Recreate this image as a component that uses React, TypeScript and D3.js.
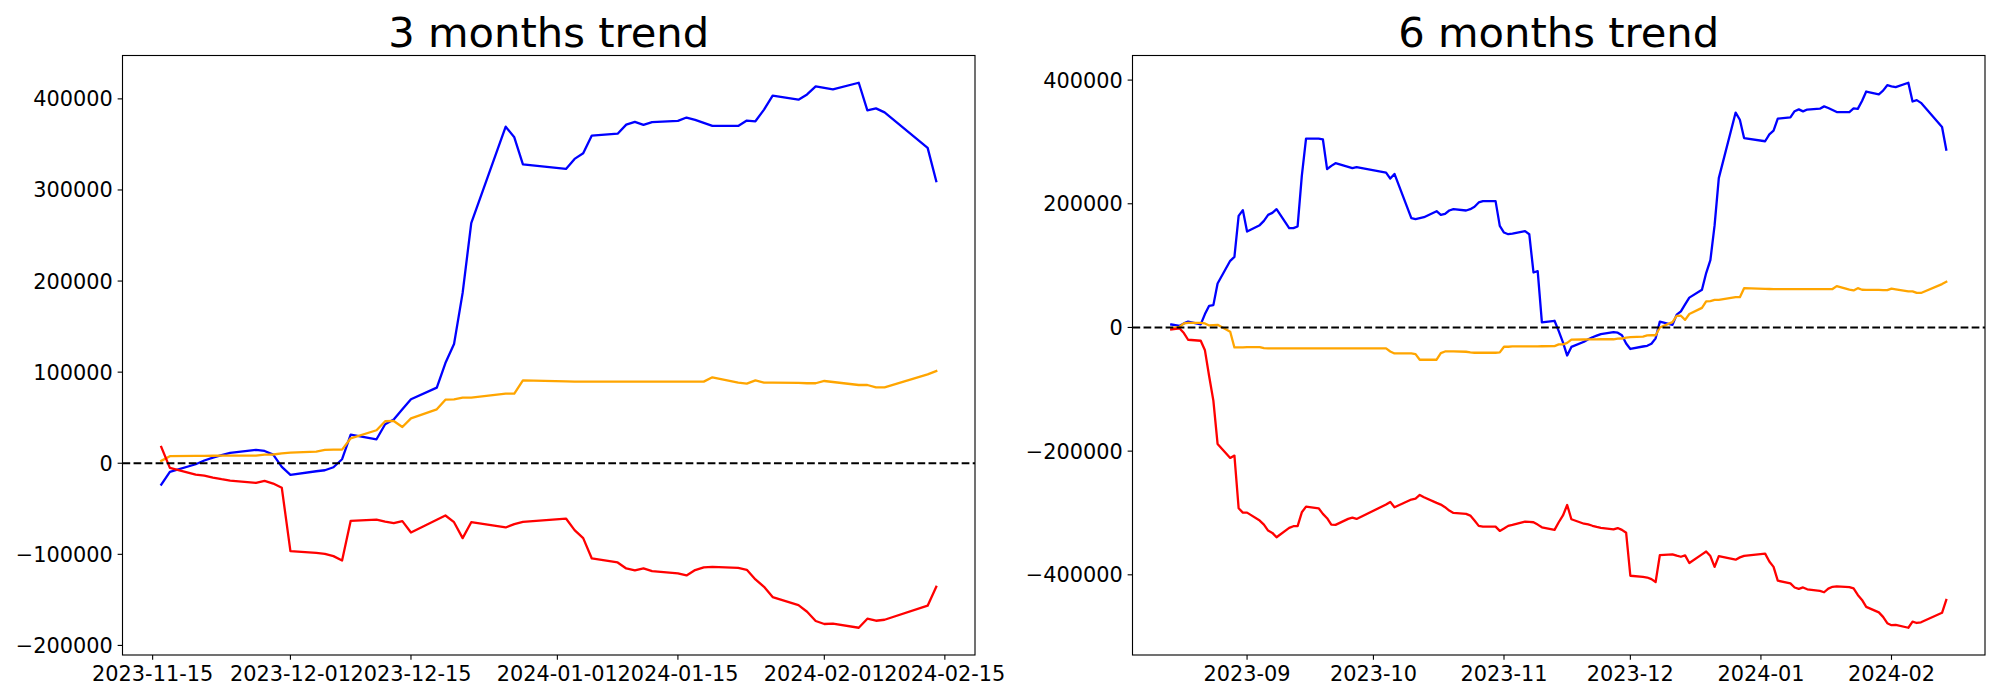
import React, { useEffect, useRef } from 'react';
import * as d3 from 'd3';

// ---------- 3 months data (KRX trading days) ----------
const dates3m = [
  '2023-11-16','2023-11-17','2023-11-20','2023-11-21','2023-11-22','2023-11-23','2023-11-24','2023-11-27','2023-11-28','2023-11-29','2023-11-30',
  '2023-12-01','2023-12-04','2023-12-05','2023-12-06','2023-12-07','2023-12-08','2023-12-11','2023-12-12','2023-12-13','2023-12-14','2023-12-15','2023-12-18','2023-12-19','2023-12-20','2023-12-21','2023-12-22','2023-12-26','2023-12-27','2023-12-28',
  '2024-01-02','2024-01-03','2024-01-04','2024-01-05','2024-01-08','2024-01-09','2024-01-10','2024-01-11','2024-01-12','2024-01-15','2024-01-16','2024-01-17','2024-01-18','2024-01-19','2024-01-22','2024-01-23','2024-01-24','2024-01-25','2024-01-26','2024-01-29','2024-01-30','2024-01-31',
  '2024-02-01','2024-02-02','2024-02-05','2024-02-06','2024-02-07','2024-02-08','2024-02-13','2024-02-14',
];
const blue3m = [
  -23400,-9500,-1100,3000,6200,8800,11300,14600,13500,9500,-4000,
  -12800,-8800,-7700,-4400,4400,31400,26300,42800,47900,59200,70200,83000,110000,130800,187000,263500,369500,357800,328200,
  323100,334100,340300,359700,361800,371700,374700,371400,374400,375800,379500,376900,373600,370300,370300,376200,375400,388200,403500,399100,404900,413700,
  412000,410500,417700,387400,389600,385200,346200,309600,
];
const orange3m = [
  2600,7700,8000,8100,8200,8300,8400,8400,9500,9600,10900,
  11700,12800,14600,14900,14900,27400,36200,46100,46400,39800,49300,59200,69800,70200,72000,72000,76400,76400,91000,
  89800,89700,89600,89600,89600,89600,89600,89600,89600,89600,89600,89600,89600,94300,88500,87400,91000,88500,88400,88200,87800,87800,
  90300,89200,85900,85900,83300,83300,97600,101200,
];
const red3m = [
  17900,-5100,-12400,-13500,-15700,-17500,-19000,-21600,-19400,-22300,-27000,
  -96500,-98400,-99400,-102000,-106700,-63200,-61800,-64000,-65800,-63600,-76000,-62000,-57400,-64700,-82200,-64700,-70500,-66800,-64400,
  -60700,-73500,-82200,-104500,-108900,-115500,-117700,-115400,-118400,-121000,-123200,-117300,-114400,-113700,-114800,-117000,-127600,-135600,-146900,-155700,-163000,-173200,
  -176500,-176100,-180600,-170700,-172900,-171800,-156400,-135600,
];

// ---------- 6 months data ----------
const dates6m = [
  '2023-08-14','2023-08-16','2023-08-17','2023-08-18','2023-08-21','2023-08-22','2023-08-23','2023-08-24','2023-08-25','2023-08-28','2023-08-29','2023-08-30','2023-08-31',
  '2023-09-01','2023-09-04','2023-09-05','2023-09-06','2023-09-07','2023-09-08','2023-09-11','2023-09-12','2023-09-13','2023-09-14','2023-09-15','2023-09-18','2023-09-19','2023-09-20','2023-09-21','2023-09-22','2023-09-25','2023-09-26','2023-09-27',
  '2023-10-04','2023-10-05','2023-10-06','2023-10-10','2023-10-11','2023-10-12','2023-10-13','2023-10-16','2023-10-17','2023-10-18','2023-10-19','2023-10-20','2023-10-23','2023-10-24','2023-10-25','2023-10-26','2023-10-27','2023-10-30','2023-10-31',
  '2023-11-01','2023-11-02','2023-11-03','2023-11-06','2023-11-07','2023-11-08','2023-11-09','2023-11-10','2023-11-13','2023-11-14','2023-11-15',
  '2023-11-16','2023-11-17','2023-11-20','2023-11-21','2023-11-22','2023-11-23','2023-11-24','2023-11-27','2023-11-28','2023-11-29','2023-11-30',
  '2023-12-01','2023-12-04','2023-12-05','2023-12-06','2023-12-07','2023-12-08','2023-12-11','2023-12-12','2023-12-13','2023-12-14','2023-12-15','2023-12-18','2023-12-19','2023-12-20','2023-12-21','2023-12-22','2023-12-26','2023-12-27','2023-12-28',
  '2024-01-02','2024-01-03','2024-01-04','2024-01-05','2024-01-08','2024-01-09','2024-01-10','2024-01-11','2024-01-12','2024-01-15','2024-01-16','2024-01-17','2024-01-18','2024-01-19','2024-01-22','2024-01-23','2024-01-24','2024-01-25','2024-01-26','2024-01-29','2024-01-30','2024-01-31',
  '2024-02-01','2024-02-02','2024-02-05','2024-02-06','2024-02-07','2024-02-08','2024-02-13','2024-02-14',
];
const blue6m = [
  4800,2700,6500,9400,5000,21600,35000,36100,71100,107800,114200,180500,189700,
  155100,165400,172400,182000,185300,191300,160600,160600,163300,245000,305400,305400,304300,255900,261300,265600,259700,257500,259100,
  250400,240700,248300,176700,175100,176700,178300,188000,182100,183700,189100,191300,189100,191300,195100,202100,204200,204200,164300,
  153500,150800,151900,155700,150800,88900,91000,8100,10800,-6000,-24000,
  -45400,-31500,-23100,-19000,-15800,-13200,-10700,-7400,-8500,-12500,-26000,
  -34800,-30800,-29700,-26400,-17600,9400,4300,20800,25900,37200,48200,61000,88000,108800,165000,241500,347500,335800,306200,
  301100,312100,318300,337700,339800,349700,352700,349400,352400,353800,357500,354900,351600,348300,348300,354200,353400,366200,381500,377100,382900,391700,
  390000,388500,395700,365400,367600,363200,324200,287600,
];
const orange6m = [
  -1000,1100,6500,7500,7500,6500,3200,3800,4300,-7000,-32300,-32300,-32300,
  -31700,-31700,-33400,-33900,-33900,-33900,-33900,-33900,-33900,-33900,-33900,-33900,-33900,-33900,-33900,-33900,-33900,-33900,-33900,
  -33900,-38800,-42000,-42000,-43100,-52200,-52200,-52200,-41500,-38800,-38800,-38800,-39300,-40400,-40900,-40900,-40900,-40900,-40400,
  -31200,-31200,-30700,-30700,-30700,-30700,-30500,-30400,-30100,-27400,-27500,
  -24900,-19800,-19500,-19400,-19300,-19200,-19100,-19100,-18000,-17900,-16600,
  -15800,-14700,-12900,-12600,-12600,-100,8700,18600,18900,12300,21800,31700,42300,42700,44500,44500,48900,48900,63500,
  62300,62200,62100,62100,62100,62100,62100,62100,62100,62100,62100,62100,62100,66800,61000,59900,63500,61000,60900,60700,60300,60300,
  62800,61700,58400,58400,55800,55800,70100,73700,
];
const red6m = [
  -3200,-1600,-9000,-19900,-21500,-37000,-79000,-118400,-188400,-211000,-207200,-292400,-299400,
  -299400,-312300,-318800,-328500,-332200,-339300,-324100,-321400,-321400,-298900,-289700,-292400,-301500,-308500,-318800,-319300,-309600,-307500,-309600,
  -286400,-282100,-290700,-278300,-276700,-270800,-274600,-283700,-286400,-290700,-296100,-299900,-301500,-304200,-312300,-320900,-322000,-322000,-329000,
  -325200,-320900,-319300,-313900,-314500,-315000,-318800,-323100,-327400,-315000,-304000,
  -287100,-310100,-317400,-318500,-320700,-322500,-324000,-326600,-324400,-327300,-332000,
  -401500,-403400,-404400,-407000,-411700,-368200,-366800,-369000,-370800,-368600,-381000,-367000,-362400,-369700,-387200,-369700,-375500,-371800,-369400,
  -365700,-378500,-387200,-409500,-413900,-420500,-422700,-420400,-423400,-426000,-428200,-422300,-419400,-418700,-419800,-422000,-432600,-440600,-451900,-460700,-468000,-478200,
  -481500,-481100,-485600,-475700,-477900,-476800,-461400,-440600,
];

// ---------- ticks ----------
const xTicks3m = ['2023-11-15','2023-12-01','2023-12-15','2024-01-01','2024-01-15','2024-02-01','2024-02-15'];
const xTicks6m = ['2023-09-01','2023-10-01','2023-11-01','2023-12-01','2024-01-01','2024-02-01'];
const yTicks3m = [-200000,-100000,0,100000,200000,300000,400000];
const yTicks6m = [-400000,-200000,0,200000,400000];

const seriesColors = ['blue', 'orange', 'red'];

const W = 2000;
const H = 700;
const PX = 100 / 72; // points -> px at dpi 100
const FONT = '"DejaVu Sans", sans-serif';

export default function App() {
  const ref = useRef<SVGSVGElement | null>(null);

  useEffect(() => {
    const svg = d3.select(ref.current);
    svg.selectAll('*').remove();
    svg.append('rect').attr('width', W).attr('height', H).attr('fill', 'white');

    const parse = d3.utcParse('%Y-%m-%d');
    const panels = [
      {
        title: '3 months trend', left: 122.5, right: 975,
        dates: dates3m, series: [blue3m, orange3m, red3m],
        xTicks: xTicks3m, xFmt: '%Y-%m-%d', yTicks: yTicks3m,
      },
      {
        title: '6 months trend', left: 1132.5, right: 1985,
        dates: dates6m, series: [blue6m, orange6m, red6m],
        xTicks: xTicks6m, xFmt: '%Y-%m', yTicks: yTicks6m,
      },
    ];
    const top = 55.5;
    const bottom = 655;
    const tickLen = 3.5 * PX;
    const tickPad = 3.5 * PX;
    const tickFont = 15 * PX;
    const titleFont = 30 * PX;
    const lw = 2.3;
    const dashW = 1.5 * PX;
    const spineW = 0.8 * PX;

    panels.forEach((p) => {
      const ds = p.dates.map((s) => parse(s) as Date);
      const t0 = +ds[0];
      const t1 = +ds[ds.length - 1];
      const tpad = (t1 - t0) * 0.05;
      const x = d3.scaleUtc().domain([new Date(t0 - tpad), new Date(t1 + tpad)]).range([p.left, p.right]);
      const all = p.series.flat();
      const ymin = d3.min(all) as number;
      const ymax = d3.max(all) as number;
      const ypad = (ymax - ymin) * 0.05;
      const y = d3.scaleLinear().domain([ymin - ypad, ymax + ypad]).range([bottom, top]);

      const g = svg.append('g');

      // lines
      p.series.forEach((vals, i) => {
        const line = d3.line<number>()
          .x((_, j) => x(ds[j]))
          .y((v) => y(v));
        g.append('path')
          .attr('d', line(vals) as string)
          .attr('fill', 'none')
          .attr('stroke', seriesColors[i])
          .attr('stroke-width', lw)
          .attr('stroke-linejoin', 'round')
          .attr('stroke-linecap', 'square');
      });

      // zero dashed line
      g.append('line')
        .attr('x1', p.left).attr('x2', p.right)
        .attr('y1', y(0)).attr('y2', y(0))
        .attr('stroke', 'black')
        .attr('stroke-width', dashW)
        .attr('stroke-dasharray', `${3.7 * dashW},${1.6 * dashW}`);

      // spines
      g.append('rect')
        .attr('x', p.left).attr('y', top)
        .attr('width', p.right - p.left).attr('height', bottom - top)
        .attr('fill', 'none').attr('stroke', 'black').attr('stroke-width', spineW);

      // y ticks
      p.yTicks.forEach((v) => {
        const yy = y(v);
        g.append('line')
          .attr('x1', p.left - tickLen).attr('x2', p.left)
          .attr('y1', yy).attr('y2', yy)
          .attr('stroke', 'black').attr('stroke-width', spineW);
        g.append('text')
          .attr('x', p.left - tickLen - tickPad)
          .attr('y', yy + 0.36 * tickFont)
          .attr('text-anchor', 'end')
          .attr('font-family', FONT)
          .attr('font-size', tickFont)
          .attr('fill', 'black')
          .text(v < 0 ? '\u2212' + String(Math.abs(v)) : String(v));
      });

      // x ticks
      const fmt = d3.utcFormat(p.xFmt);
      p.xTicks.forEach((s) => {
        const dt = parse(s) as Date;
        const xx = x(dt);
        g.append('line')
          .attr('x1', xx).attr('x2', xx)
          .attr('y1', bottom).attr('y2', bottom + tickLen)
          .attr('stroke', 'black').attr('stroke-width', spineW);
        g.append('text')
          .attr('x', xx)
          .attr('y', bottom + tickLen + tickPad + 0.76 * tickFont)
          .attr('text-anchor', 'middle')
          .attr('font-family', FONT)
          .attr('font-size', tickFont)
          .attr('fill', 'black')
          .text(fmt(dt));
      });

      // title
      g.append('text')
        .attr('x', (p.left + p.right) / 2)
        .attr('y', top - 6 * PX)
        .attr('text-anchor', 'middle')
        .attr('font-family', FONT)
        .attr('font-size', titleFont)
        .attr('fill', 'black')
        .text(p.title);
    });
  }, []);

  return (
    <svg
      ref={ref}
      width={W}
      height={H}
      style={{ position: 'absolute', left: 0, top: 0, display: 'block' }}
    />
  );
}
